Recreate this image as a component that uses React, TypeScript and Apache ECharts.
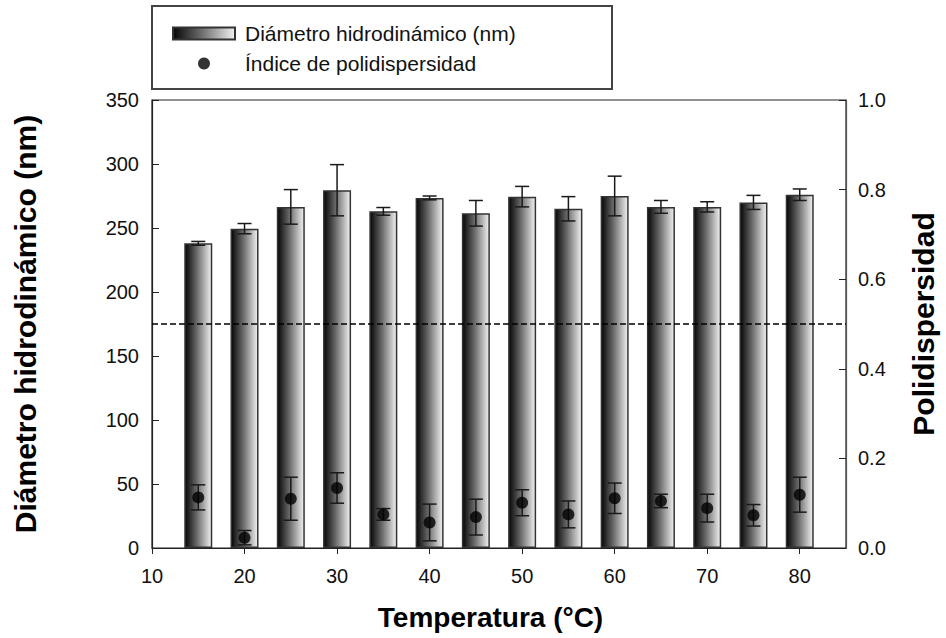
import React, { useEffect, useRef } from "react";
import * as echarts from "echarts";

const temperatures = [15, 20, 25, 30, 35, 40, 45, 50, 55, 60, 65, 70, 75, 80];
const diameter = [238, 249.5, 266.5, 279.5, 263, 273.5, 261.5, 274.5, 265, 275, 266.5, 266.5, 270, 276];
const diameterErr = [1.5, 4, 13.5, 20, 3, 1.5, 10, 8, 9.5, 15.5, 5, 4, 5.5, 4.5];
const pdi = [0.113, 0.023, 0.11, 0.134, 0.075, 0.057, 0.069, 0.101, 0.075, 0.111, 0.105, 0.089, 0.073, 0.119];
const pdiErr = [0.028, 0.016, 0.048, 0.034, 0.013, 0.041, 0.04, 0.029, 0.03, 0.034, 0.015, 0.031, 0.024, 0.039];
const thresholdPdi = 0.5;

const barName = "Diámetro hidrodinámico (nm)";
const pdiName = "Índice de polidispersidad";
const FONT = "'Liberation Sans', Arial, sans-serif";

function errorRenderer(params: any, api: any) {
  const x = api.value(0);
  const lo = api.coord([x, api.value(1)]);
  const hi = api.coord([x, api.value(2)]);
  const w = 7;
  const style = { stroke: "#1a1a1a", lineWidth: 1.5 };
  return {
    type: "group",
    children: [
      { type: "line", shape: { x1: lo[0], y1: lo[1], x2: hi[0], y2: hi[1] }, style },
      { type: "line", shape: { x1: lo[0] - w, y1: lo[1], x2: lo[0] + w, y2: lo[1] }, style },
      { type: "line", shape: { x1: hi[0] - w, y1: hi[1], x2: hi[0] + w, y2: hi[1] }, style },
    ],
  };
}

export default function App() {
  const ref = useRef<HTMLDivElement>(null);
  useEffect(() => {
    if (!ref.current) return;
    const chart = echarts.init(ref.current, null, { renderer: "svg" });
    const gradient = new echarts.graphic.LinearGradient(0, 0, 1, 0, [
      { offset: 0, color: "#050505" },
      { offset: 0.45, color: "#6a6a6a" },
      { offset: 1, color: "#f2f2f2" },
    ]);
    const option: any = {
      animation: false,
      backgroundColor: "#ffffff",
      grid: {
        left: 152,
        right: 97,
        top: 100,
        bottom: 90,
        show: true,
        borderColor: "#222",
        borderWidth: 1.2,
        backgroundColor: "transparent",
      },
      legend: {
        orient: "vertical",
        left: 167,
        top: 18,
        itemWidth: 62,
        itemHeight: 12,
        itemGap: 9,
        data: [
          { name: barName, icon: "rect" },
          { name: pdiName, icon: "circle" },
        ],
        textStyle: { fontFamily: FONT, fontSize: 21, color: "#111", padding: [0, 0, 0, 5] },
      },
      graphic: [
        {
          type: "rect",
          shape: { x: 152, y: 6, width: 460, height: 83 },
          style: { fill: "none", stroke: "#444", lineWidth: 2 },
          silent: true,
        },
      ],
      xAxis: {
        type: "value",
        min: 10,
        max: 85,
        interval: 10,
        name: "Temperatura (°C)",
        nameLocation: "middle",
        nameGap: 55,
        nameTextStyle: { fontFamily: FONT, fontSize: 28, fontWeight: "bold", color: "#000", padding: [0, 17, 0, 0] },
        axisLine: { lineStyle: { color: "#222", width: 1.2 } },
        axisTick: { inside: false, length: 6, lineStyle: { color: "#222" } },
        axisLabel: { fontFamily: FONT, fontSize: 20, color: "#111", margin: 18, showMaxLabel: false },
        splitLine: { show: false },
      },
      yAxis: [
        {
          type: "value",
          min: 0,
          max: 350,
          interval: 50,
          name: "Diámetro hidrodinámico (nm)",
          nameLocation: "middle",
          nameGap: 112,
          nameTextStyle: { fontFamily: FONT, fontSize: 30, fontWeight: "bold", color: "#000" },
          axisLine: { show: true, lineStyle: { color: "#222", width: 1.2 } },
          axisTick: { show: true, inside: true, length: 7, lineStyle: { color: "#222" } },
          axisLabel: { fontFamily: FONT, fontSize: 20, color: "#111", margin: 13 },
          splitLine: { show: false },
        },
        {
          type: "value",
          min: 0,
          max: 1,
          interval: 0.2,
          position: "right",
          name: "Polidispersidad",
          nameLocation: "middle",
          nameGap: 62,
          nameTextStyle: { fontFamily: FONT, fontSize: 30, fontWeight: "bold", color: "#000" },
          axisLine: { show: true, lineStyle: { color: "#555", width: 1.2 } },
          axisTick: { show: true, inside: true, length: 7, lineStyle: { color: "#222" } },
          axisLabel: {
            fontFamily: FONT,
            fontSize: 20,
            color: "#111",
            margin: 12,
            formatter: (v: number) => v.toFixed(1),
          },
          splitLine: { show: false },
        },
      ],
      series: [
        {
          name: barName,
          type: "bar",
          barWidth: 28,
          data: temperatures.map((t, i) => [t, diameter[i]]),
          itemStyle: { color: gradient, borderColor: "#333", borderWidth: 1.5 },
          z: 2,
        },
        {
          name: "diameterErr",
          type: "custom",
          renderItem: errorRenderer,
          encode: { x: 0, y: [1, 2] },
          data: temperatures.map((t, i) => [t, diameter[i] - diameterErr[i], diameter[i] + diameterErr[i]]),
          z: 3,
        },
        {
          name: "pdiErr",
          type: "custom",
          yAxisIndex: 1,
          renderItem: errorRenderer,
          encode: { x: 0, y: [1, 2] },
          data: temperatures.map((t, i) => [t, pdi[i] - pdiErr[i], pdi[i] + pdiErr[i]]),
          z: 4,
        },
        {
          name: pdiName,
          type: "scatter",
          yAxisIndex: 1,
          symbol: "circle",
          symbolSize: 12,
          itemStyle: { color: "#000" },
          data: temperatures.map((t, i) => [t, pdi[i]]),
          z: 5,
          markLine: {
            silent: true,
            symbol: "none",
            label: { show: false },
            lineStyle: { color: "#000", type: [6, 3], width: 1.5 },
            data: [{ yAxis: thresholdPdi }],
          },
        },
      ],
    };
    chart.setOption(option);
    return () => chart.dispose();
  }, []);
  return (
    <div
      ref={ref}
      style={{ position: "absolute", left: 0, top: 0, width: 946, height: 638 }}
    />
  );
}
